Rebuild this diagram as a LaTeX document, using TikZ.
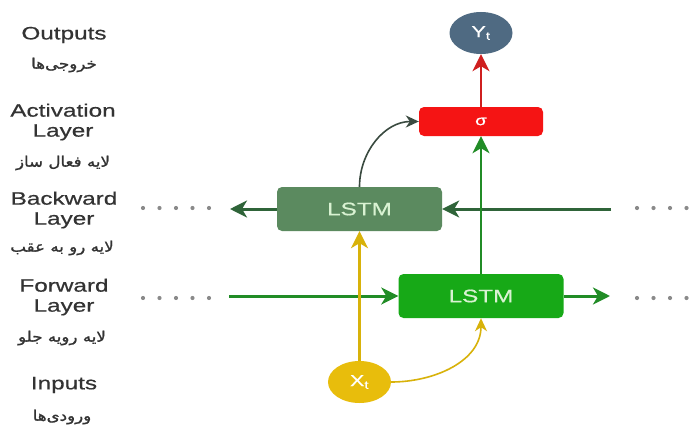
\documentclass[tikz,border=0pt]{standalone}
\usepackage{fontspec}
\setmainfont{Liberation Sans}[FakeStretch=1.35,FakeBold=0.6]
\newfontfamily\fafont[Script=Arabic,FakeStretch=1.15,FakeBold=1.2]{DejaVu Sans}
\TeXXeTstate=1
\usetikzlibrary{arrows.meta,shapes.geometric}
\definecolor{lbltext}{HTML}{333333}
\definecolor{dotgray}{HTML}{8A8A8A}
\definecolor{outblue}{HTML}{4F6A82}
\definecolor{inyellow}{HTML}{E8BD0C}
\definecolor{arryellow}{HTML}{D8B20A}
\definecolor{sigred}{HTML}{F51414}
\definecolor{arrred}{HTML}{CF1F1F}
\definecolor{bwgreen}{HTML}{5B8A5F}
\definecolor{fwgreen}{HTML}{17A917}
\definecolor{bwline}{HTML}{2F6439}
\definecolor{fwline}{HTML}{218C26}
\definecolor{curvegray}{HTML}{3A4A40}
\definecolor{celltext}{HTML}{D9F2D2}
\tikzset{
  lbl/.style={align=center, text=lbltext, font=\fontsize{18}{20}\selectfont},
  falbl/.style={text=lbltext, font=\fafont\fontsize{14.5}{16}\selectfont},
  cell/.style={rectangle, rounded corners=5pt, minimum width=165pt, minimum height=44pt,
    inner sep=0pt, text=celltext, font=\fontsize{18}{20}\selectfont},
  blob/.style={ellipse, minimum width=63pt, minimum height=42pt, inner sep=0pt,
    text=white, font=\fontsize{16}{18}\selectfont},
  tip/.style={-{Stealth[length=17pt,width=17pt,inset=5pt]}},
  thin tip/.style={-{Stealth[length=13pt,width=12pt,inset=4pt]}},
}
\begin{document}
\begin{tikzpicture}[x=1pt,y=-1pt]
  \useasboundingbox[fill=white] (0,0) rectangle (699,428);
  % left column
  \node[lbl] (lblout) at (64,35) {Outputs};
  \node[falbl] (faout) at (64,65) {\beginR خروجی‌ها\endR};
  \node[lbl] (lblact) at (63,122) {Activation\\Layer};
  \node[falbl] (faact) at (63,163) {\beginR لایه فعال ساز\endR};
  \node[lbl] (lblbw) at (64,210) {Backward\\Layer};
  \node[falbl] (fabw) at (62,248) {\beginR لایه رو به عقب\endR};
  \node[lbl] (lblfw) at (64,297) {Forward\\Layer};
  \node[falbl] (fafw) at (62,338) {\beginR لایه رویه جلو\endR};
  \node[lbl] (lblin) at (64,385) {Inputs};
  \node[falbl] (fain) at (62,417) {\beginR ورودی‌ها\endR};
  % cells
  \node[blob, fill=outblue] (yt) at (481,33) {Y\textsubscript{t}};
  \node[cell, fill=sigred, minimum width=124pt, minimum height=29pt, text=white,
    font=\fontsize{14}{16}\selectfont] (sig) at (481,121.5) {σ};
  \node[cell, fill=bwgreen] (bw) at (359.5,209) {LSTM};
  \node[cell, fill=fwgreen] (fw) at (481,296) {LSTM};
  \node[blob, fill=inyellow] (xt) at (359.5,382) {X\textsubscript{t}};
  % free ends
  \coordinate (bwin) at (611,209);
  \coordinate (bwout) at (230,209);
  \coordinate (fwin) at (229,296);
  \coordinate (fwout) at (610,296);
  % dots
  \foreach \y in {208,298} {
    \foreach \x in {143,159.5,176,192.5,209} \fill[dotgray] (\x,\y) circle (2.1);
    \foreach \x in {637,653.5,670,686.5,703} \fill[dotgray] (\x,\y) circle (2.1);
  }
  % connectors
  \draw[tip, line width=3pt, bwline] (bwin) -- (bw.east);
  \draw[tip, line width=3pt, bwline] (bw.west) -- (bwout);
  \draw[tip, line width=2.6pt, fwline] (fw.north) -- (sig.south);
  \draw[tip, line width=3pt, fwline] (fwin) -- (fw.west);
  \draw[tip, line width=3pt, fwline] (fw.east) -- (fwout);
  \draw[tip, line width=2.2pt, arryellow] (xt.north) -- (xt.north |- bw.south);
  \draw[thin tip, line width=1.6pt, arryellow] (xt.east) to[out=0, in=-90] (fw.south);
  \draw[thin tip, line width=1.6pt, curvegray] (bw.north) to[out=90, in=180] (sig.west);
  \draw[tip, line width=2.4pt, arrred] (sig.north) -- (yt.south);
\end{tikzpicture}
\end{document}
